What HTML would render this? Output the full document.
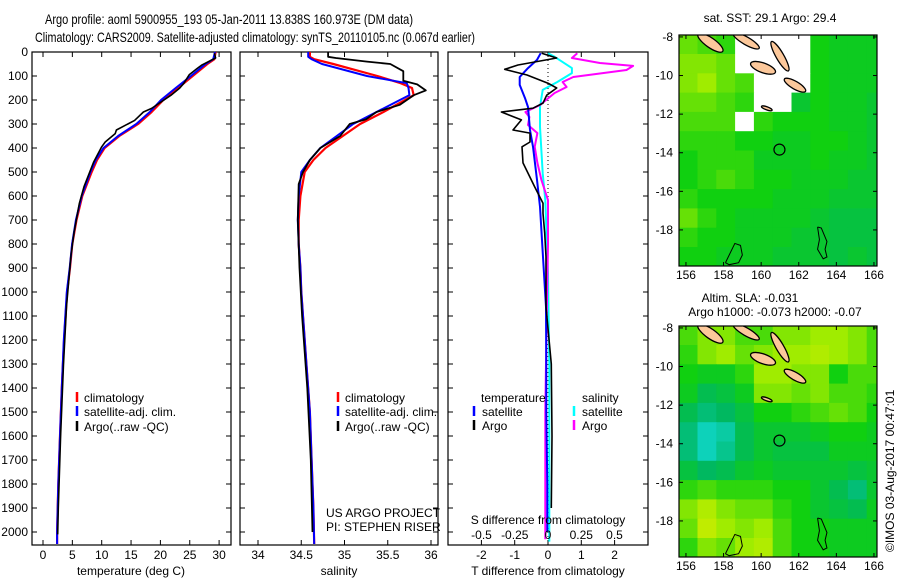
<!DOCTYPE html>
<html><head><meta charset="utf-8">
<style>
html,body{margin:0;padding:0;background:#fff;}
svg{display:block;font-family:"Liberation Sans",sans-serif;}
text{fill:#000;}
</style></head>
<body>
<svg id="fig" width="900" height="580" viewBox="0 0 900 580" xmlns="http://www.w3.org/2000/svg">
<text x="229" y="24" font-size="14" text-anchor="middle" textLength="368" lengthAdjust="spacingAndGlyphs">Argo profile: aoml 5900955_193 05-Jan-2011 13.838S 160.973E (DM data)</text>
<text x="255" y="42" font-size="14" text-anchor="middle" textLength="440" lengthAdjust="spacingAndGlyphs">Climatology: CARS2009. Satellite-adjusted climatology: synTS_20110105.nc (0.067d earlier)</text>
<text x="770" y="22" font-size="12" text-anchor="middle">sat. SST: 29.1 Argo: 29.4</text>
<text x="750" y="302" font-size="12" text-anchor="middle">Altim. SLA: -0.031</text>
<text x="775" y="316" font-size="12" text-anchor="middle">Argo h1000: -0.073 h2000: -0.07</text>
<text transform="translate(894,552) rotate(-90)" font-size="12">©IMOS 03-Aug-2017 00:47:01</text>
</svg>
<script>
// ---------- data ----------
const depthClim=[0,30,50,100,150,200,250,300,350,400,450,500,600,700,800,900,1000,1200,1400,1600,1800,2000,2050];
const tempClim=[29.4,29.2,28,25.5,23,20.5,18.5,16.2,13,10.5,9.2,8.3,6.7,5.7,5,4.6,4.1,3.6,3.2,2.9,2.6,2.4,2.4];
const tempSat=[29.3,29.0,27.7,25.2,22.6,20.1,18.2,15.9,12.8,10.3,9.0,8.1,6.6,5.6,4.95,4.55,4.05,3.55,3.2,2.9,2.6,2.4,2.4];
const depthArgo=[5,25,55,70,95,130,150,180,215,235,250,285,325,340,375,395,460,560,630,670,750,850,1060,1300,1600,1900,2010];
const tempArgo=[29.2,29.4,27.0,26.2,24.9,24.0,23.3,21.8,19.7,18.5,17.1,15.6,12.5,12.3,10.6,10.0,8.6,7.0,6.2,5.9,5.3,4.75,4.0,3.5,3.0,2.6,2.5];
const depthSal=[0,20,30,50,100,130,150,180,200,250,300,350,400,450,500,600,700,800,900,1000,1100,1300,1500,1700,1900,2050];
const salClim=[34.6,34.6,34.65,34.87,35.38,35.65,35.78,35.8,35.7,35.45,35.18,34.98,34.78,34.64,34.54,34.49,34.47,34.47,34.49,34.5,34.52,34.56,34.6,34.62,34.64,34.65];
const salSat=[34.58,34.58,34.62,34.74,35.26,35.72,35.74,35.75,35.64,35.37,35.1,34.91,34.72,34.6,34.5,34.47,34.46,34.47,34.49,34.5,34.52,34.56,34.6,34.62,34.64,34.65];
const depthSalArgo=[0,20,25,40,50,80,120,135,160,180,220,250,280,300,350,400,450,500,550,700,900,1100,1400,1700,2000];
const salArgo=[34.81,34.81,34.9,35.26,35.53,35.68,35.68,35.84,35.94,35.8,35.64,35.37,35.25,35.06,34.95,34.72,34.6,34.52,34.47,34.46,34.48,34.51,34.57,34.61,34.63];
const depthDT=[5,25,54,72,96,130,150,180,213,234,250,283,325,338,375,395,462,562,630,672,754,854,1062,1300,1600,1900];
const dTArgo=[-0.19,0.26,-0.9,-1.3,-0.63,0,0.26,-0.04,-0.15,-0.45,-1.4,-0.8,-1.05,-0.54,-0.54,-0.78,-0.75,-0.4,-0.15,-0.15,-0.1,-0.06,-0.06,0.1,0.12,0.1];
const depthDTs=[5,33,67,104,137,192,229,325,395,533,645,854,1062,1300,1500,1800,2000];
const dTSat=[-0.22,-0.33,-0.6,-0.85,-0.85,-0.69,-0.6,-0.54,-0.45,-0.33,-0.24,-0.15,-0.06,-0.05,-0.05,-0.02,-0.02];
const depthDS=[5,20,67,88,125,158,229,312,505,617,921,1300,1700,2040];
const dSSat=[0,0.05,0.18,0.18,0.07,-0.04,-0.06,-0.06,-0.04,-0.02,0,0.01,0.01,0.01];
const depthDSA=[5,25,46,58,75,104,125,146,171,221,250,271,304,338,395,462,533,617,800,1100,1500,1900,2030];
const dSArgo=[0.22,0.18,0.39,0.64,0.59,0.19,0.11,0.14,0.05,-0.06,-0.17,-0.14,-0.15,-0.08,-0.1,-0.08,-0.05,0,0,-0.01,-0.02,-0.02,-0.02];
const depthTicks=[0,100,200,300,400,500,600,700,800,900,1000,1100,1200,1300,1400,1500,1600,1700,1800,1900,2000];
const tempTicks=[0,5,10,15,20,25,30];
const salTicks=[34,34.5,35,35.5,36];
const salTickLabels=["34","34.5","35","35.5","36"];
const dTTicks=[-2,-1,0,1,2];
const dSTicks=[-0.5,-0.25,0,0.25,0.5];
const dSTickLabels=["-0.5","-0.25","0","0.25","0.5"];
const lonTicks=[156,158,160,162,164,166];
const latTicks=[-8,-10,-12,-14,-16,-18];
const sstGrid=[
[0.65,0.6,0.55,-1,-1,-1,-1,0.5,0.45,0.45,0.45],
[0.7,0.7,0.65,-1,-1,-1,-1,0.5,0.45,0.45,0.45],
[0.7,0.75,0.65,0.6,-1,-1,-1,0.5,0.45,0.45,0.45],
[0.65,0.65,0.6,0.55,-1,-1,0.4,0.5,0.45,0.45,0.4],
[0.6,0.6,0.6,-1,0.55,0.5,0.5,0.5,0.45,0.45,0.4],
[0.55,0.55,0.55,0.5,0.5,0.45,0.45,0.5,0.5,0.45,0.4],
[0.5,0.55,0.55,0.55,0.45,0.45,0.45,0.5,0.45,0.45,0.4],
[0.5,0.55,0.6,0.55,0.5,0.5,0.45,0.45,0.45,0.4,0.4],
[0.55,0.5,0.5,0.5,0.5,0.45,0.45,0.45,0.4,0.4,0.4],
[0.65,0.55,0.5,0.45,0.45,0.45,0.45,0.4,0.35,0.35,0.35],
[0.55,0.5,0.5,0.45,0.45,0.45,0.4,0.4,0.35,0.35,0.35],
[0.5,0.5,0.45,0.45,0.45,0.4,0.4,0.4,0.35,0.4,0.35]];
const slaGrid=[
[0.6,0.7,0.7,0.6,0.6,0.7,0.7,0.75,0.75,0.7,0.6],
[0.55,0.7,0.75,0.65,0.7,0.75,0.75,0.8,0.75,0.7,0.6],
[0.5,0.45,0.45,0.55,0.75,0.75,0.7,0.7,0.5,0.6,0.6],
[0.45,0.3,0.35,0.45,0.7,0.7,0.65,0.7,0.6,0.6,0.55],
[0.3,0.2,0.25,0.35,0.5,0.5,0.55,0.6,0.65,0.6,0.5],
[0.2,0.05,0.1,0.3,0.4,0.4,0.4,0.45,0.5,0.5,0.45],
[0.2,0.05,0.15,0.3,0.4,0.35,0.35,0.35,0.45,0.45,0.45],
[0.35,0.25,0.3,0.4,0.45,0.4,0.4,0.4,0.4,0.35,0.4],
[0.55,0.6,0.55,0.55,0.55,0.5,0.5,0.4,0.3,0.2,0.4],
[0.7,0.8,0.7,0.65,0.65,0.55,0.5,0.4,0.35,0.3,0.45],
[0.65,0.85,0.75,0.7,0.75,0.6,0.5,0.5,0.45,0.45,0.45],
[0.55,0.7,0.65,0.75,0.8,0.6,0.5,0.5,0.45,0.45,0.45]];
const islandLon=[159.2,161.0,160.1,161.8,157.3,160.3];
const islandLat=[-8.2,-9.0,-9.6,-10.5,-8.3,-11.7];
const islandRx=[0.8,0.9,0.7,0.65,0.8,0.3];
const islandRy=[0.2,0.2,0.25,0.2,0.25,0.08];
const islandRot=[30,60,20,30,35,20];
const contourALon=[163.0,163.2,163.5,163.4,163.5,163.3,163.0,163.1,163.0];
const contourALat=[-17.85,-17.9,-18.6,-19.0,-19.4,-19.5,-19.0,-18.5,-17.85];
const contourBLon=[158.1,158.6,158.9,159.0,158.8,158.3,158.1];
const contourBLat=[-19.7,-18.7,-18.8,-19.3,-19.7,-19.8,-19.7];
const argoLon=160.973, argoLat=-13.838;

// ---------- helpers ----------
const svg=document.getElementById('fig');
const NS='http://www.w3.org/2000/svg';
function mk(tag,attrs,parent){const e=document.createElementNS(NS,tag);for(const k in attrs)e.setAttribute(k,attrs[k]);(parent||svg).appendChild(e);return e;}
const PTOP=52, dScale=0.24;
const yD=d=>PTOP+d*dScale;
const P1={l:32,r:231}, P2={l:240,r:438}, P3={l:448,r:648}, PBOT=545;
const xT=v=>43+v*5.87;
const xS=v=>258+(v-34)*86.5;
const xDT=v=>548+v*33.3;
const xDS=v=>548+v*133;

function panelFrame(P,name){
  const r=mk('rect',{x:P.l,y:PTOP,width:P.r-P.l,height:PBOT-PTOP,fill:'none',stroke:'#000','stroke-width':1.2});
  
  
  depthTicks.forEach(d=>{
    const t1=mk('line',{x1:P.l,x2:P.l+5,y1:yD(d),y2:yD(d),stroke:'#000'});
    
    
    const t2=mk('line',{x1:P.r-5,x2:P.r,y1:yD(d),y2:yD(d),stroke:'#000'});
    
    
  });
}
function xTicks(vals,labels,fx,name,ly){
  vals.forEach((v,i)=>{
    const x=fx(v);
    const a=mk('line',{x1:x,x2:x,y1:PBOT-5,y2:PBOT,stroke:'#000'});
    
    
    const b=mk('line',{x1:x,x2:x,y1:PTOP,y2:PTOP+5,stroke:'#000'});
    
    
    const t=mk('text',{x:x,y:ly,'font-size':12,'text-anchor':'middle'});
    t.textContent=labels[i];
    
    
  });
}
function line(xs,ys,fx,color,name,w){
  const pts=xs.map((v,i)=>fx(v).toFixed(1)+','+yD(ys[i]).toFixed(1)).join(' ');
  const p=mk('polyline',{points:pts,fill:'none',stroke:color,'stroke-width':w||2,'stroke-linejoin':'round'});
  
  
}
function txt(x,y,s,name,anchor,size){
  const t=mk('text',{x:x,y:y,'font-size':size||12,'text-anchor':anchor||'start'});
  t.textContent=s;
  
  
  return t;
}
function legMark(x,y,color,name){
  const m=mk('line',{x1:x,x2:x,y1:y-10,y2:y,stroke:color,'stroke-width':2.5});
  
  
}

// depth labels
depthTicks.forEach(d=>{
  const t=mk('text',{x:28,y:yD(d)+4,'font-size':12,'text-anchor':'end'});
  t.textContent=String(d);
  
  
});

// panel 1 temperature
panelFrame(P1,'temperature-panel');
xTicks(tempTicks,tempTicks.map(String),xT,'temperature-axis',559);
txt(131,575,'temperature (deg C)','temperature-axis-title','middle');
line(tempClim,depthClim,xT,'#ff0000','temperature-climatology-line',2.2);
line(tempSat,depthClim,xT,'#0000ff','temperature-satellite-line',2);
line(tempArgo,depthArgo,xT,'#000000','temperature-argo-line',1.6);
legMark(77,402,'#ff0000','legend-climatology-mark');txt(84,402,'climatology','legend-climatology');
legMark(77,416,'#0000ff','legend-satellite-mark');txt(84,416,'satellite-adj. clim.','legend-satellite');
legMark(77,431,'#000000','legend-argo-mark');txt(84,431,'Argo(..raw -QC)','legend-argo');

// panel 2 salinity
panelFrame(P2,'salinity-panel');
xTicks(salTicks,salTickLabels,xS,'salinity-axis',559);
txt(339,575,'salinity','salinity-axis-title','middle');
line(salClim,depthSal,xS,'#ff0000','salinity-climatology-line',2.2);
line(salSat,depthSal,xS,'#0000ff','salinity-satellite-line',2);
line(salArgo,depthSalArgo,xS,'#000000','salinity-argo-line',1.8);
legMark(338,402,'#ff0000','legend2-climatology-mark');txt(345,402,'climatology','legend2-climatology');
legMark(338,416,'#0000ff','legend2-satellite-mark');txt(345,416,'satellite-adj. clim.','legend2-satellite');
legMark(338,431,'#000000','legend2-argo-mark');txt(345,431,'Argo(..raw -QC)','legend2-argo');
txt(326,517,'US ARGO PROJECT','project-label');
txt(326,531,'PI: STEPHEN RISER','pi-label');

// panel 3 differences
panelFrame(P3,'difference-panel');
xTicks(dTTicks,dTTicks.map(String),xDT,'t-difference-axis',559);
txt(548,575,'T difference from climatology','t-difference-axis-title','middle');
const zl=mk('line',{x1:xDT(0),x2:xDT(0),y1:PTOP,y2:PBOT,stroke:'#000','stroke-dasharray':'1,3'});


line(dSSat,depthDS,xDS,'#00ffff','s-difference-satellite-line',2);
line(dSArgo,depthDSA,xDS,'#ff00ff','s-difference-argo-line',2);
line(dTSat,depthDTs,xDT,'#0000ff','t-difference-satellite-line',2);
line(dTArgo,depthDT,xDT,'#000000','t-difference-argo-line',1.6);
txt(481,402,'temperature','legend3-temperature-heading');
legMark(474,416,'#0000ff','legend3-t-satellite-mark');txt(482,416,'satellite','legend3-t-satellite');
legMark(474,430,'#000000','legend3-t-argo-mark');txt(482,430,'Argo','legend3-t-argo');
txt(582,402,'salinity','legend3-salinity-heading');
legMark(574,416,'#00ffff','legend3-s-satellite-mark');txt(582,416,'satellite','legend3-s-satellite');
legMark(574,430,'#ff00ff','legend3-s-argo-mark');txt(582,430,'Argo','legend3-s-argo');
txt(548,524,'S difference from climatology','s-difference-axis-title','middle');
dSTicks.forEach((v,i)=>{
  const t=mk('text',{x:xDS(v),y:539,'font-size':12,'text-anchor':'middle'});
  t.textContent=dSTickLabels[i];
  
  
});

// ---------- maps ----------
const M={l:679,r:877,lon0:155.63,lat0:-7.9,px:18.8,py:19.3};
const cmapStops=[[0,[16,216,208]],[0.25,[0,184,96]],[0.5,[16,208,16]],[0.75,[160,236,0]],[1,[240,236,0]]];
function cmap(v){
  for(let i=1;i<cmapStops.length;i++){
    if(v<=cmapStops[i][0]){
      const a=cmapStops[i-1],b=cmapStops[i],f=(v-a[0])/(b[0]-a[0]);
      const c=a[1].map((x,k)=>Math.round(x+(b[1][k]-x)*f));
      return 'rgb('+c.join(',')+')';
    }
  }
  return 'rgb(240,236,0)';
}
function drawMap(grid,mTop,mBottom,name){
  const g=mk('g',{});
  
  
  const cid='clip-'+name;
  const cp=mk('clipPath',{id:cid},g);
  mk('rect',{x:M.l,y:mTop,width:M.r-M.l,height:mBottom-mTop},cp);
  const inner=mk('g',{'clip-path':'url(#'+cid+')'},g);
  const fx=lon=>M.l+(lon-M.lon0)*M.px;
  const fy=lat=>mTop+(M.lat0-lat)*M.py;
  grid.forEach((row,i)=>row.forEach((v,j)=>{
    const c=mk('rect',{x:fx(M.lon0+j)-0.3,y:fy(M.lat0-i)-0.3,width:M.px+0.6,height:M.py+0.6,fill:v<0?'#ffffff':cmap(v)},inner);
    
    
  }));
  islandLon.forEach((lon,k)=>{
    const e=mk('ellipse',{cx:fx(lon),cy:fy(islandLat[k]),rx:islandRx[k]*M.px,ry:islandRy[k]*M.py,transform:'rotate('+islandRot[k]+' '+fx(lon)+' '+fy(islandLat[k])+')',fill:'#fcc89b',stroke:'#000','stroke-width':1.3},inner);
    
    
  });
  [[contourALon,contourALat],[contourBLon,contourBLat]].forEach(([lo,la])=>{
    const p=mk('polyline',{points:lo.map((v,i)=>fx(v)+','+fy(la[i])).join(' '),fill:'none',stroke:'#000','stroke-width':1},inner);
    
    
  });
  const c=mk('circle',{cx:fx(argoLon),cy:fy(argoLat),r:5.5,fill:'none',stroke:'#000','stroke-width':1.2},g);
  
  
  const fr=mk('rect',{x:M.l,y:mTop,width:M.r-M.l,height:mBottom-mTop,fill:'none',stroke:'#000','stroke-width':1.2},g);
  
  
  lonTicks.forEach(lon=>{
    const x=fx(lon);
    mk('line',{x1:x,x2:x,y1:mBottom-4,y2:mBottom,stroke:'#000'},g);
    mk('line',{x1:x,x2:x,y1:mTop,y2:mTop+4,stroke:'#000'},g);
    const t=mk('text',{x:x,y:mBottom+13,'font-size':12,'text-anchor':'middle'},g);
    t.textContent=String(lon);
    
    
  });
  latTicks.forEach(lat=>{
    const y=fy(lat);
    mk('line',{x1:M.l,x2:M.l+4,y1:y,y2:y,stroke:'#000'},g);
    mk('line',{x1:M.r-4,x2:M.r,y1:y,y2:y,stroke:'#000'},g);
    const t=mk('text',{x:M.l-6,y:y+4,'font-size':12,'text-anchor':'end'},g);
    t.textContent=String(lat);
    
    
  });
}
drawMap(sstGrid,35,266,'sst-map');
drawMap(slaGrid,326,557,'sla-map');
</script>
</body></html>
